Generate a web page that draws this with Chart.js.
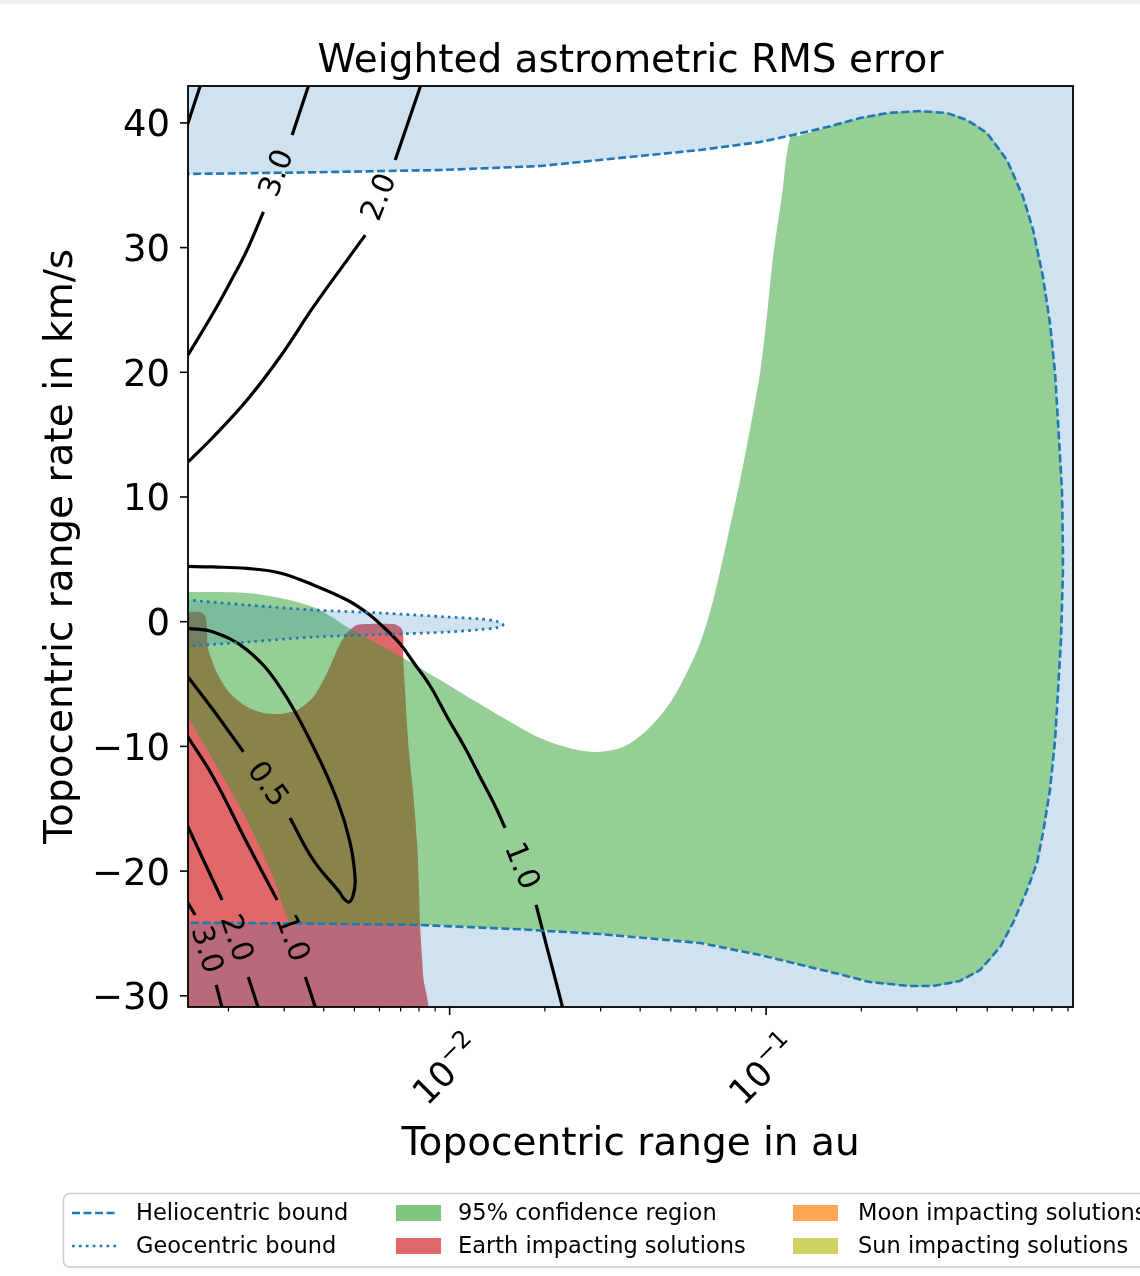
<!DOCTYPE html>
<html>
<head>
<meta charset="utf-8">
<title>Weighted astrometric RMS error</title>
<script src="https://cdn.jsdelivr.net/npm/chart.js@4.4.1/dist/chart.umd.min.js"></script>
<style>
  html, body { margin: 0; padding: 0; background: #fff; }
  #wrap { width: 1140px; height: 1276px; position: relative; }
</style>
</head>
<body>
<div id="wrap"><canvas id="chart"></canvas></div>
<script>
// axis limits: topocentric range (au, log) and range rate (km/s)
const xRange = [0.00149, 0.933];
const yRange = [-30.9, 42.96];
const yTicks = [-30, -20, -10, 0, 10, 20, 30, 40];
const xMajorTicks = [0.01, 0.1];
const xMinorTicks = [0.002, 0.003, 0.004, 0.005, 0.006, 0.007, 0.008, 0.009,
                     0.02, 0.03, 0.04, 0.05, 0.06, 0.07, 0.08, 0.09,
                     0.2, 0.3, 0.4, 0.5, 0.6, 0.7, 0.8, 0.9];

// heliocentric bound, closed curve: lower edge left->right, right side up, upper edge right->left
const helioX = [0.0014, 0.00337, 0.00807, 0.0167, 0.02989, 0.0619, 0.0957, 0.1217, 0.175, 0.213,
                0.285, 0.337, 0.41, 0.475, 0.549, 0.603, 0.668, 0.718, 0.75, 0.789,
                0.819, 0.837, 0.855, 0.867, 0.867, 0.861, 0.837, 0.819, 0.789, 0.75,
                0.698, 0.649, 0.577, 0.499, 0.432, 0.373, 0.307, 0.241, 0.198, 0.156,
                0.1217, 0.0957, 0.0619, 0.02989, 0.01932, 0.00933, 0.00337, 0.0014];
const helioY = [-24.14, -24.2, -24.32, -24.67, -25.05, -25.77, -26.73, -27.37, -28.34, -28.9,
                -29.22, -29.22, -28.81, -27.93, -26.09, -24.16, -21.52, -19.35, -16.95, -13.5,
                -9.49, -5.48, -1.47, 3.9, 5.75, 10.56, 15.93, 19.94, 23.95, 27.64,
                31.41, 34.06, 37.03, 39.19, 40.23, 40.79, 40.95, 40.79, 40.39, 39.67,
                39.03, 38.47, 37.83, 37.03, 36.54, 36.22, 36.02, 35.9];

// geocentric bound (closed)
const geoX = [0.0014, 0.00229, 0.00371, 0.00603, 0.00982, 0.01248, 0.01413, 0.01476,
              0.01413, 0.01248, 0.00982, 0.00603, 0.00371, 0.00229, 0.0014];
const geoY = [1.8, 1.34, 0.94, 0.7, 0.38, 0.22, 0.02, -0.26,
              -0.47, -0.63, -0.83, -1.03, -1.23, -1.63, -2.0];

// 95% confidence region: upper/inner edge up to the heliocentric bound, and lower-left edge
const greenTopX = [0.0014, 0.00179, 0.00229, 0.00291, 0.00371, 0.00419, 0.00474, 0.00603, 0.00713, 0.00933,
                   0.01186, 0.01519, 0.01932, 0.02456, 0.02924, 0.03533, 0.04207, 0.04867, 0.05469, 0.0619,
                   0.06808, 0.0753, 0.08279, 0.0889, 0.0957, 0.1007, 0.1052, 0.1123, 0.1191, 0.128];
const greenTopY = [2.38, 2.38, 2.3, 1.9, 1.18, 0.46, -0.42, -1.87, -2.91, -4.68,
                   -6.28, -7.88, -9.33, -10.21, -10.45, -10.05, -8.68, -6.84, -4.68, -1.71,
                   1.74, 6.55, 11.36, 15.37, 19.94, 24.59, 29.24, 34.21, 38.79, 38.99];
const greenLowX = [0.00313, 0.00277, 0.00229, 0.00179, 0.0014];
const greenLowY = [-24.16, -20.48, -15.91, -11.09, -6.5];

// Earth impacting solutions
const redX = [0.0014, 0.00163, 0.00169, 0.00171, 0.00172, 0.00184, 0.00202, 0.00229, 0.00258, 0.00291,
              0.0033, 0.00371, 0.0041, 0.00441, 0.00468, 0.00492, 0.0051, 0.00549, 0.00663, 0.00698,
              0.00713, 0.00713, 0.00724, 0.0074, 0.00767, 0.00789, 0.00801, 0.00807, 0.00825, 0.00837, 0.0014];
const redY = [0.78, 0.78, 0.46, -0.26, -2.03, -4.11, -5.72, -6.84, -7.32, -7.4,
              -7.08, -6.04, -4.11, -2.27, -1.07, -0.51, -0.26, -0.18, -0.18, -0.42,
              -0.91, -2.83, -5.72, -9.73, -13.73, -17.74, -21.76, -24.48, -28.49, -31.54, -31.54];

// RMS contours, null marks the gap where the level label sits
const c4TopX = [0.00144, 0.00149, 0.00166];
const c4TopY = [38.8, 40.0, 43.6];
const c3TopX = [0.001407, 0.00149, 0.00179, 0.00202, 0.00229, 0.00258, null, 0.00318, 0.00357, 0.003678];
const c3TopY = [20.35, 21.39, 24.75, 27.16, 29.81, 32.86, null, 39.03, 42.88, 43.84];
const c2TopX = [0.001407, 0.00149, 0.00179, 0.00229, 0.00291, 0.00371, 0.00474, 0.00541, null, 0.00673, 0.00807, 0.00831];
const c2TopY = [12.17, 12.81, 14.81, 17.78, 21.23, 25.24, 29.0, 31.0, null, 37.03, 42.88, 43.84];
const c1BigX = [0.001407, 0.00149, 0.00179, 0.00229, 0.00291, 0.00371, 0.00474, 0.00549, 0.00603, 0.00698,
                0.00767, 0.00868, 0.00982, 0.01119, 0.01248, 0.01392, 0.01497, null, 0.01876, 0.02032, 0.02202, 0.02284];
const c1BigY = [4.43, 4.43, 4.39, 4.27, 3.91, 2.94, 1.74, 0.7, -0.18, -1.79,
                -3.23, -5.16, -7.64, -10.13, -12.45, -14.78, -16.54, null, -22.71, -26.16, -29.53, -31.13];
const c05X = [0.001407, 0.00149, 0.00179, 0.00229, 0.00291, 0.00371, 0.00441, 0.00485, 0.00503, 0.00495,
              0.00481, 0.00461, 0.00451, 0.00371, 0.00313, null, 0.00223, 0.00179, 0.00149, 0.001407];
const c05Y = [-0.45, -0.53, -0.83, -2.27, -5.24, -10.05, -14.3, -17.75, -20.71, -21.99,
              -22.48, -22.15, -21.76, -19.12, -15.75, null, -10.44, -7.08, -4.43, -3.6];
const c1LowX = [0.001407, 0.00149, 0.00179, 0.00229, 0.00285, null, 0.0035, 0.00376, 0.003815];
const c1LowY = [-8.22, -9.25, -12.45, -17.75, -22.32, null, -28.5, -30.9, -31.46];
const c2LowX = [0.001407, 0.00149, 0.00191, null, 0.00231, 0.00248, 0.00252];
const c2LowY = [-15.08, -16.46, -22.32, null, -28.5, -30.9, -31.46];
const c3LowX = [0.001407, 0.00157, null, 0.001829, 0.001924];
const c3LowY = [-21.52, -23.52, null, -29.13, -31.3];

const contours = [
  {level: '', x: c4TopX, y: c4TopY},
  {level: '3.0', x: c3TopX, y: c3TopY},
  {level: '2.0', x: c2TopX, y: c2TopY},
  {level: '1.0', x: c1BigX, y: c1BigY},
  {level: '0.5', x: c05X, y: c05Y},
  {level: '1.0', x: c1LowX, y: c1LowY},
  {level: '2.0', x: c2LowX, y: c2LowY},
  {level: '3.0', x: c3LowX, y: c3LowY}
];

const title = 'Weighted astrometric RMS error';
const xTitle = 'Topocentric range in au';
const yTitle = 'Topocentric range rate in km/s';
const legendLabels = ['Heliocentric bound', 'Geocentric bound', '95% confidence region',
                      'Earth impacting solutions', 'Moon impacting solutions', 'Sun impacting solutions'];

const C0 = '#1f77b4';
const FONT = '"DejaVu Sans", "Liberation Sans", sans-serif';

function pts(xs, ys) {
  return xs.map((x, i) => ({x: x, y: ys[i]}));
}

function splitAtGaps(xs, ys) {
  const parts = [[]];
  xs.forEach((x, i) => {
    if (x === null) parts.push([]);
    else parts[parts.length - 1].push({x: x, y: ys[i]});
  });
  return parts;
}

function area(label, data, color, order, tension) {
  return {label, data, fill: 'shape', backgroundColor: color, borderColor: 'rgba(0,0,0,0)',
          borderWidth: 0, pointRadius: 0, order, tension};
}

const helio = pts(helioX, helioY);
const helioRev = helio.slice().reverse();
const startUpper = helioRev.findIndex(p => p.x > 0.13);
const greenPoly = pts(greenTopX, greenTopY)
  .concat(helioRev.slice(startUpper, -1))
  .concat(pts(greenLowX, greenLowY));

const outerX = [xRange[0] * 0.9, xRange[1] * 1.1];
const outerY = [yRange[0] - 3, yRange[1] + 3];
const bluePoly = [
  {x: outerX[0], y: outerY[1]}, {x: outerX[1], y: outerY[1]},
  {x: outerX[1], y: outerY[0]}, {x: outerX[0], y: outerY[0]}
].concat(helio);

const datasets = [
  area('Earth impacting solutions', pts(redX, redY), 'rgba(214,39,40,0.7)', 70, 0.25),
  area('95% confidence region', greenPoly, 'rgba(44,160,44,0.5)', 60, 0.3),
  area('outside heliocentric bound', bluePoly, 'rgba(31,119,180,0.21)', 50, 0),
  area('inside geocentric bound', pts(geoX, geoY), 'rgba(31,119,180,0.21)', 40, 0.3)
];

const contourLabels = [];
contours.forEach(c => {
  const parts = splitAtGaps(c.x, c.y);
  parts.forEach(p => datasets.push({
    data: p, borderColor: '#000', borderWidth: 3.2, pointRadius: 0, fill: false, order: 30, tension: 0.4
  }));
  if (c.level && parts.length > 1) {
    contourLabels.push({text: c.level, a: parts[0][parts[0].length - 1], b: parts[1][0]});
  }
});

datasets.push({data: pts(geoX, geoY), borderColor: C0, borderWidth: 2.7, borderDash: [2.7, 4.2],
               pointRadius: 0, fill: false, order: 20, tension: 0.3});
datasets.push({data: helio, borderColor: C0, borderWidth: 2.6, borderDash: [8, 3.5],
               pointRadius: 0, fill: false, order: 10, tension: 0});

const decorations = {
  id: 'decorations',
  beforeDraw(chart) {
    const ctx = chart.ctx;
    ctx.save();
    ctx.fillStyle = '#f0f0f0';
    ctx.fillRect(0, 0, chart.width, 4);
    ctx.restore();
  },
  afterDatasetsDraw(chart) {
    const ctx = chart.ctx;
    const xs = chart.scales.x, ys = chart.scales.y;
    ctx.save();
    ctx.fillStyle = '#000';
    ctx.font = '30px ' + FONT;
    ctx.textAlign = 'center';
    ctx.textBaseline = 'middle';
    contourLabels.forEach(l => {
      const ax = xs.getPixelForValue(l.a.x), ay = ys.getPixelForValue(l.a.y);
      const bx = xs.getPixelForValue(l.b.x), by = ys.getPixelForValue(l.b.y);
      let ang = Math.atan2(by - ay, bx - ax);
      if (ang > Math.PI / 2) ang -= Math.PI;
      if (ang < -Math.PI / 2) ang += Math.PI;
      ctx.save();
      ctx.translate((ax + bx) / 2, (ay + by) / 2);
      ctx.rotate(ang);
      ctx.fillText(l.text, 0, 0);
      ctx.restore();
    });
    ctx.restore();
  },
  afterDraw(chart) {
    const ctx = chart.ctx;
    const ca = chart.chartArea;
    const xs = chart.scales.x, ys = chart.scales.y;
    ctx.save();

    // frame
    ctx.strokeStyle = '#000';
    ctx.lineWidth = 1.8;
    ctx.strokeRect(ca.left, ca.top, ca.right - ca.left, ca.bottom - ca.top);

    // y ticks
    ctx.fillStyle = '#000';
    ctx.font = '37px ' + FONT;
    ctx.textAlign = 'right';
    ctx.textBaseline = 'alphabetic';
    ctx.lineWidth = 1.6;
    yTicks.forEach(v => {
      const py = ys.getPixelForValue(v);
      ctx.beginPath();
      ctx.moveTo(ca.left - 8, py);
      ctx.lineTo(ca.left, py);
      ctx.stroke();
      ctx.fillText(String(v).replace('-', '\u2212'), ca.left - 18, py + 13.5);
    });

    // x ticks
    xMinorTicks.forEach(v => {
      const px = xs.getPixelForValue(v);
      if (px < ca.left || px > ca.right) return;
      ctx.lineWidth = 1.2;
      ctx.beginPath();
      ctx.moveTo(px, ca.bottom);
      ctx.lineTo(px, ca.bottom + 4.5);
      ctx.stroke();
    });
    xMajorTicks.forEach(v => {
      const px = xs.getPixelForValue(v);
      ctx.lineWidth = 1.6;
      ctx.beginPath();
      ctx.moveTo(px, ca.bottom);
      ctx.lineTo(px, ca.bottom + 8);
      ctx.stroke();
      const exp = String(Math.round(Math.log10(v))).replace('-', '\u2212');
      ctx.save();
      ctx.translate(px - 5, ca.bottom + 61);
      ctx.rotate(-Math.PI / 4);
      ctx.textAlign = 'left';
      ctx.font = '35px ' + FONT;
      const wb = ctx.measureText('10').width;
      ctx.font = '24px ' + FONT;
      const we = ctx.measureText(exp).width;
      const x0 = -(wb + we) / 2;
      ctx.font = '35px ' + FONT;
      ctx.fillText('10', x0, 15);
      ctx.font = '24px ' + FONT;
      ctx.fillText(exp, x0 + wb, 0);
      ctx.restore();
    });

    // titles
    const cx = (ca.left + ca.right) / 2;
    ctx.textAlign = 'center';
    ctx.font = '39px ' + FONT;
    ctx.fillText(title, cx, 72);
    ctx.fillText(xTitle, cx, 1155);
    ctx.save();
    ctx.translate(72, (ca.top + ca.bottom) / 2);
    ctx.rotate(-Math.PI / 2);
    ctx.fillText(yTitle, 0, 0);
    ctx.restore();

    // legend
    ctx.beginPath();
    ctx.roundRect(63.5, 1193.5, 1120, 73.5, 6);
    ctx.fillStyle = 'rgba(255,255,255,0.8)';
    ctx.fill();
    ctx.strokeStyle = '#cccccc';
    ctx.lineWidth = 1.5;
    ctx.stroke();

    const rows = [1213, 1246];
    const handleX = [72, 396, 793];
    const textX = [136, 458, 858];
    const patchColors = ['rgba(44,160,44,0.6)', 'rgba(214,39,40,0.7)',
                         'rgba(255,127,14,0.7)', 'rgba(188,189,34,0.7)'];
    ctx.font = '22.5px ' + FONT;
    ctx.textAlign = 'left';
    ctx.textBaseline = 'middle';
    legendLabels.forEach((lab, i) => {
      const col = Math.floor(i / 2), row = i % 2;
      const y = rows[row];
      if (col === 0) {
        ctx.strokeStyle = C0;
        ctx.lineWidth = 2.6;
        ctx.setLineDash(row === 0 ? [8, 3.5] : [2.7, 4.2]);
        ctx.beginPath();
        ctx.moveTo(handleX[0], y);
        ctx.lineTo(handleX[0] + 45, y);
        ctx.stroke();
        ctx.setLineDash([]);
      } else {
        ctx.fillStyle = patchColors[i - 2];
        ctx.fillRect(handleX[col], y - 8, 45, 16);
      }
      ctx.fillStyle = '#000';
      ctx.fillText(lab, textX[col], y + 1);
    });
    ctx.restore();
  }
};

new Chart(document.getElementById('chart'), {
  type: 'line',
  data: {datasets},
  options: {
    responsive: true,
    maintainAspectRatio: false,
    animation: false,
    devicePixelRatio: 1,
    events: [],
    layout: {padding: {left: 188, right: 67, top: 86, bottom: 269}},
    scales: {
      x: {type: 'logarithmic', min: xRange[0], max: xRange[1], display: false},
      y: {type: 'linear', min: yRange[0], max: yRange[1], display: false}
    },
    elements: {
      line: {tension: 0, capBezierPoints: false, borderCapStyle: 'butt', borderJoinStyle: 'round'},
      point: {radius: 0}
    },
    plugins: {legend: {display: false}, tooltip: {enabled: false}, title: {display: false}}
  },
  plugins: [decorations]
});
</script>
</body>
</html>
